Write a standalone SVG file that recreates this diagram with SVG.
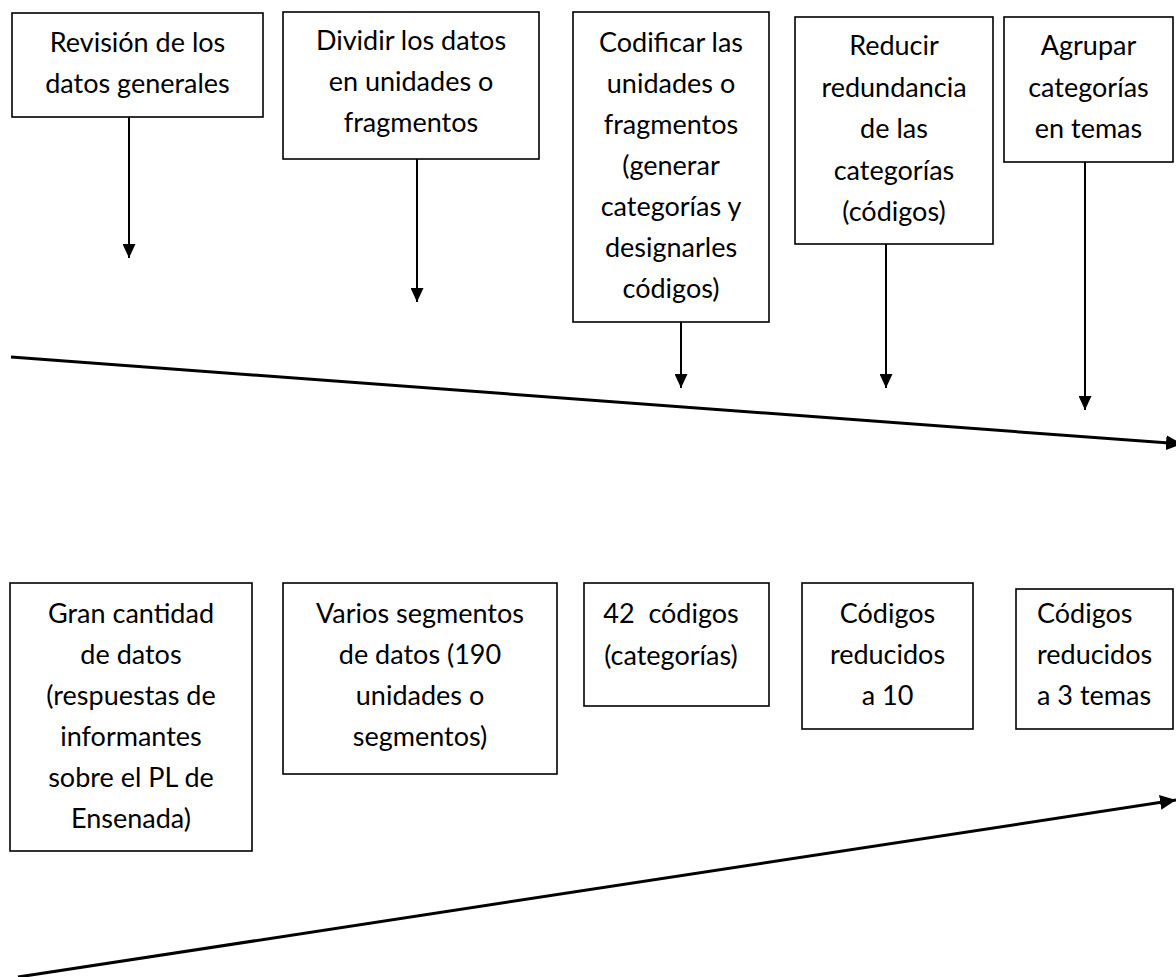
<svg xmlns="http://www.w3.org/2000/svg" width="1176" height="977" viewBox="0 0 1176 977">
<style>
.box{fill:#fff;stroke:#000;stroke-width:1.6}
.t{font-family:Lato,"Open Sans","Liberation Sans",sans-serif;font-size:27px;fill:#000;text-anchor:middle}
.tl{text-anchor:start}
.ar{stroke:#000;stroke-width:2;fill:none;marker-end:url(#ah)}
.big{stroke:#000;stroke-width:3;fill:none;marker-end:url(#ah2)}
</style>
<defs>
<marker id="ah" viewBox="0 0 14 13" refX="14" refY="6.5" markerWidth="14" markerHeight="13" markerUnits="userSpaceOnUse" orient="auto"><path d="M0,0 L14,6.5 L0,13 z" fill="#000"/></marker>
<marker id="ah2" viewBox="0 0 16 15" refX="16" refY="7.5" markerWidth="16" markerHeight="15" markerUnits="userSpaceOnUse" orient="auto"><path d="M0,0 L16,7.5 L0,15 z" fill="#000"/></marker>
</defs>
<g id="n1"><rect class="box" x="12" y="13" width="251" height="104"/>
<text class="t" x="137.5" y="52">Revisión de los</text><text class="t" x="137.5" y="93">datos generales</text></g>
<g id="n2"><rect class="box" x="283" y="12" width="256" height="147"/>
<text class="t" x="411" y="50">Dividir los datos</text><text class="t" x="411" y="91">en unidades o</text><text class="t" x="411" y="132">fragmentos</text></g>
<g id="n3"><rect class="box" x="573" y="12" width="196" height="310"/>
<text class="t" x="671" y="52">Codificar las</text><text class="t" x="671" y="93">unidades o</text><text class="t" x="671" y="134">fragmentos</text><text class="t" x="671" y="175">(generar</text><text class="t" x="671" y="216">categorías y</text><text class="t" x="671" y="257">designarles</text><text class="t" x="671" y="298">códigos)</text></g>
<g id="n4"><rect class="box" x="795" y="17" width="198" height="227"/>
<text class="t" x="894" y="55">Reducir</text><text class="t" x="894" y="97">redundancia</text><text class="t" x="894" y="138">de las</text><text class="t" x="894" y="180">categorías</text><text class="t" x="894" y="221">(códigos)</text></g>
<g id="n5"><rect class="box" x="1004" y="17" width="169" height="145"/>
<text class="t" x="1088.5" y="55">Agrupar</text><text class="t" x="1088.5" y="97">categorías</text><text class="t" x="1088.5" y="138">en temas</text></g>
<g id="m1"><rect class="box" x="10" y="583" width="242" height="268"/>
<text class="t" x="131" y="623">Gran cantidad</text><text class="t" x="131" y="664">de datos</text><text class="t" x="131" y="705">(respuestas de</text><text class="t" x="131" y="746">informantes</text><text class="t" x="131" y="787">sobre el PL de</text><text class="t" x="131" y="828">Ensenada)</text></g>
<g id="m2"><rect class="box" x="283" y="583" width="274" height="191"/>
<text class="t" x="420" y="623">Varios segmentos</text><text class="t" x="420" y="664">de datos (190</text><text class="t" x="420" y="705">unidades o</text><text class="t" x="420" y="746">segmentos)</text></g>
<g id="m3"><rect class="box" x="584" y="583" width="185" height="123"/>
<text class="t" x="671" y="623" xml:space="preserve">42  códigos</text><text class="t" x="671" y="665">(categorías)</text></g>
<g id="m4"><rect class="box" x="802" y="583" width="171" height="146"/>
<text class="t" x="887.5" y="623">Códigos</text><text class="t" x="887.5" y="664">reducidos</text><text class="t" x="887.5" y="705">a 10</text></g>
<g id="m5"><rect class="box" x="1016" y="589" width="157" height="140"/>
<text class="t tl" x="1037" y="623">Códigos</text><text class="t tl" x="1037" y="664">reducidos</text><text class="t tl" x="1037" y="705">a 3 temas</text></g>
<g id="connectors">
<line class="ar" x1="129" y1="117" x2="129" y2="258"/>
<line class="ar" x1="417" y1="159" x2="417" y2="302"/>
<line class="ar" x1="681" y1="322" x2="681" y2="388"/>
<line class="ar" x1="886" y1="244" x2="886" y2="388"/>
<line class="ar" x1="1085" y1="162" x2="1085" y2="410"/>
<line class="big" x1="11" y1="357" x2="1182" y2="444"/>
<line class="big" x1="18" y1="977" x2="1176" y2="800"/>
</g>
</svg>
